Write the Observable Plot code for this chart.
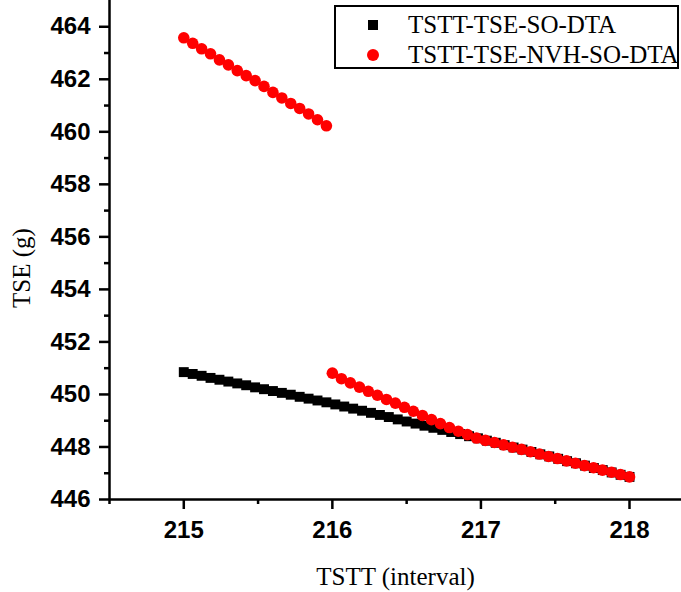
<!DOCTYPE html>
<html>
<head>
<meta charset="utf-8">
<script src="https://cdn.jsdelivr.net/npm/d3@7"></script>
<script src="https://cdn.jsdelivr.net/npm/@observablehq/plot@0.6"></script>
<style>
  html, body { margin: 0; padding: 0; background: #fff; }
  #wrap { position: relative; width: 681px; height: 592px; overflow: hidden; }
  #legend { position: absolute; left: 334px; top: 5px; width: 341px; height: 60px; border: 2px solid #000; background: #fff; font-family: "Liberation Serif", "Times New Roman", serif; font-size: 25px; color: #000; }
  .row { position: absolute; left: 0; height: 30px; line-height: 30px; white-space: nowrap; }
  .sym { position: absolute; }
  .lbl { position: absolute; left: 72px; }
</style>
</head>
<body>
<div id="wrap"></div>
<script>
// ----- data -----
const seriesNames = ["TSTT-TSE-SO-DTA", "TSTT-TSE-NVH-SO-DTA"];

const soX = [215.00,215.06,215.12,215.18,215.24,215.30,215.36,215.42,215.48,215.54,215.60,215.66,215.72,215.78,215.84,215.90,215.96,
             216.02,216.08,216.14,216.20,216.26,216.32,216.38,216.44,216.50,216.56,216.62,216.68,216.74,216.80,216.86,216.92,216.98,
             217.04,217.10,217.16,217.22,217.28,217.34,217.40,217.46,217.52,217.58,217.64,217.70,217.76,217.82,217.88,217.94,218.00];
const soY = [450.85,450.78,450.71,450.63,450.56,450.49,450.42,450.35,450.27,450.20,450.13,450.06,449.99,449.91,449.84,449.77,449.70,
             449.62,449.54,449.46,449.38,449.30,449.22,449.14,449.05,448.97,448.89,448.81,448.73,448.65,448.57,448.49,448.41,448.33,
             448.24,448.16,448.07,447.98,447.90,447.81,447.72,447.64,447.55,447.46,447.38,447.29,447.20,447.12,447.03,446.94,446.86];

const nvhX = [215.00,215.06,215.12,215.18,215.24,215.30,215.36,215.42,215.48,215.54,215.60,215.66,215.72,215.78,215.84,215.90,215.96,
              216.000,216.061,216.121,216.182,216.242,216.303,216.364,216.424,216.485,216.545,216.606,216.667,216.727,216.788,216.848,216.909,
              216.970,217.030,217.091,217.152,217.212,217.273,217.333,217.394,217.455,217.515,217.576,217.636,217.697,217.758,217.818,217.879,217.939,218.000];
const nvhY = [463.58,463.37,463.16,462.97,462.74,462.55,462.33,462.14,461.95,461.73,461.50,461.29,461.08,460.89,460.68,460.46,460.23,
              450.81,450.60,450.44,450.28,450.12,449.97,449.81,449.67,449.51,449.36,449.20,449.04,448.89,448.74,448.60,448.47,
              448.34,448.25,448.17,448.08,447.99,447.91,447.82,447.73,447.64,447.56,447.47,447.38,447.29,447.21,447.12,447.04,446.95,446.86];

const xMajor = [215, 216, 217, 218];
const xMinor = [214.5, 215.5, 216.5, 217.5];
const yMajor = [446, 448, 450, 452, 454, 456, 458, 460, 462, 464];
const yMinor = [447, 449, 451, 453, 455, 457, 459, 461, 463];

const xTitle = "TSTT (interval)";
const yTitle = "TSE (g)";

// ----- tables built from the arrays -----
const so = soX.map((x, i) => ({x, y: soY[i]}));
const nvh = nvhX.map((x, i) => ({x, y: nvhY[i]}));

const sans = "'Liberation Sans', Arial, sans-serif";
const serif = "'Liberation Serif', 'Times New Roman', serif";

const chart = Plot.plot({
  width: 681,
  height: 592,
  marginLeft: 109,
  marginRight: 0,
  marginTop: 0,
  marginBottom: 93,
  x: {domain: [214.5, 218.35]},
  y: {domain: [446, 465]},
  style: {background: "#fff", color: "#000", overflow: "visible"},
  marks: [
    Plot.axisY(yMajor, {tickSize: 10, tickPadding: 9, fontSize: 24, fontWeight: "bold", fontFamily: sans, strokeWidth: 2.5, tickFormat: d => String(d), label: null}),
    Plot.axisY(yMinor, {tickSize: 5, tickFormat: () => "", strokeWidth: 2.5, label: null}),
    Plot.axisX(xMajor, {tickSize: 10, tickPadding: 11, fontSize: 24, fontWeight: "bold", fontFamily: sans, strokeWidth: 2.5, tickFormat: d => String(d), label: null}),
    Plot.axisX(xMinor, {tickSize: 5, tickFormat: () => "", strokeWidth: 2.5, label: null}),
    Plot.ruleX([214.5], {strokeWidth: 2.5}),
    Plot.ruleY([446], {strokeWidth: 2.5}),
    Plot.text([xTitle], {frameAnchor: "bottom", dy: 77, lineAnchor: "middle", fontSize: 25, fontFamily: serif, fill: "#000"}),
    Plot.text([yTitle], {frameAnchor: "left", dx: -88, dy: 18, rotate: -90, textAnchor: "middle", lineAnchor: "middle", fontSize: 25, fontFamily: serif, fill: "#000"}),
    Plot.dot(so, {x: "x", y: "y", symbol: "square", r: 5.6, fill: "#000", stroke: "none"}),
    Plot.dot(nvh, {x: "x", y: "y", symbol: "circle", r: 5.8, fill: "#ff0000", stroke: "none"})
  ]
});

const wrap = document.getElementById("wrap");
wrap.appendChild(chart);

// legend
const legend = document.createElement("div");
legend.id = "legend";
const syms = [
  '<span class="sym" style="left:32px;top:10px;width:10px;height:10px;background:#000"></span>',
  '<span class="sym" style="left:31px;top:9px;width:12px;height:12px;border-radius:50%;background:#ff0000"></span>'
];
seriesNames.forEach((name, i) => {
  const row = document.createElement("div");
  row.className = "row";
  row.style.top = (i === 0 ? 3 : 33) + "px";
  row.style.width = "341px";
  row.innerHTML = syms[i] + '<span class="lbl">' + name + '</span>';
  legend.appendChild(row);
});
wrap.appendChild(legend);
</script>
</body>
</html>
